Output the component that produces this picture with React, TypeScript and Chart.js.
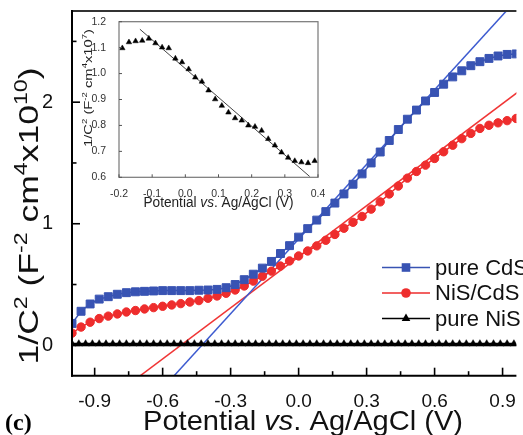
import React, { useEffect, useRef } from 'react';
import { Chart, registerables } from 'chart.js';

Chart.register(...registerables);

// ---------- main chart data ----------
const potential = [
  -1.0, -0.96, -0.92, -0.88, -0.84, -0.8, -0.76, -0.72, -0.68, -0.64,
  -0.6, -0.56, -0.52, -0.48, -0.44, -0.4, -0.36, -0.32, -0.28, -0.24,
  -0.2, -0.16, -0.12, -0.08, -0.04, 0.0, 0.04, 0.08, 0.12, 0.16,
  0.2, 0.24, 0.28, 0.32, 0.36, 0.4, 0.44, 0.48, 0.52, 0.56,
  0.6, 0.64, 0.68, 0.72, 0.76, 0.8, 0.84, 0.88, 0.92, 0.96,
];
const pureCdS = [
  0.18, 0.28, 0.34, 0.38, 0.4, 0.42, 0.433, 0.44, 0.444, 0.447,
  0.45, 0.45, 0.45, 0.45, 0.453, 0.455, 0.46, 0.474, 0.5, 0.54,
  0.585, 0.635, 0.69, 0.755, 0.82, 0.89, 0.96, 1.03, 1.1, 1.17,
  1.245, 1.325, 1.41, 1.5, 1.59, 1.685, 1.775, 1.86, 1.935, 2.01,
  2.08, 2.148, 2.208, 2.258, 2.3, 2.333, 2.36, 2.38, 2.393, 2.397,
];
const nisCdS = [
  0.1, 0.15, 0.19, 0.22, 0.24, 0.258, 0.274, 0.286, 0.299, 0.31,
  0.321, 0.332, 0.343, 0.356, 0.368, 0.387, 0.406, 0.428, 0.455, 0.488,
  0.528, 0.568, 0.61, 0.652, 0.694, 0.735, 0.776, 0.818, 0.864, 0.912,
  0.963, 1.012, 1.06, 1.12, 1.18, 1.245, 1.31, 1.375, 1.43, 1.482,
  1.537, 1.592, 1.646, 1.7, 1.743, 1.784, 1.81, 1.83, 1.848, 1.866,
];
const nisPotential = [
  -1.0, -0.97, -0.94, -0.91, -0.88, -0.85, -0.82, -0.79, -0.76, -0.73,
  -0.7, -0.67, -0.64, -0.61, -0.58, -0.55, -0.52, -0.49, -0.46, -0.43,
  -0.4, -0.37, -0.34, -0.31, -0.28, -0.25, -0.22, -0.19, -0.16, -0.13,
  -0.1, -0.07, -0.04, -0.01, 0.02, 0.05, 0.08, 0.11, 0.14, 0.17,
  0.2, 0.23, 0.26, 0.29, 0.32, 0.35, 0.38, 0.41, 0.44, 0.47,
  0.5, 0.53, 0.56, 0.59, 0.62, 0.65, 0.68, 0.71, 0.74, 0.77,
  0.8, 0.83, 0.86, 0.89, 0.92, 0.95,
];
const pureNiS = [
  0.011, 0.011, 0.011, 0.011, 0.011, 0.011, 0.011, 0.011, 0.011, 0.011,
  0.011, 0.011, 0.011, 0.011, 0.011, 0.011, 0.011, 0.011, 0.011, 0.011,
  0.011, 0.011, 0.011, 0.011, 0.011, 0.011, 0.011, 0.011, 0.011, 0.011,
  0.011, 0.011, 0.011, 0.011, 0.011, 0.011, 0.011, 0.011, 0.011, 0.011,
  0.011, 0.011, 0.011, 0.011, 0.011, 0.011, 0.011, 0.011, 0.011, 0.011,
  0.011, 0.011, 0.011, 0.011, 0.011, 0.011, 0.011, 0.011, 0.011, 0.011,
  0.011, 0.011, 0.011, 0.011, 0.011, 0.011,
];
const cdsFitX = [-0.6, 1.0];
const cdsFitY = [-0.354, 2.921];
const nisCdsFitX = [-0.8, 1.0];
const nisCdsFitY = [-0.392, 2.128];

const xTicks = [-0.9, -0.6, -0.3, 0, 0.3, 0.6, 0.9];
const xTickLabels = ['-0.9', '-0.6', '-0.3', '0.0', '0.3', '0.6', '0.9'];
const xMinorTicks = [-0.75, -0.45, -0.15, 0.15, 0.45, 0.75];
const yTicks = [0, 1, 2];
const yTickLabels = ['0', '1', '2'];
const yMinorTicks = [0.5, 1.5, 2.5];
const legendLabels = ['pure CdS', 'NiS/CdS', 'pure NiS'];

// ---------- inset data ----------
const insetPotential = [
  -0.19, -0.17, -0.15, -0.13, -0.11, -0.09, -0.07, -0.05, -0.03, -0.01,
  0.01, 0.03, 0.05, 0.07, 0.09, 0.11, 0.13, 0.15, 0.17, 0.19,
  0.21, 0.23, 0.25, 0.27, 0.29, 0.31, 0.33, 0.35, 0.37, 0.39,
];
const insetValues = [
  1.098, 1.121, 1.125, 1.127, 1.135, 1.117, 1.101, 1.098, 1.058, 1.044,
  1.017, 0.985, 0.969, 0.935, 0.901, 0.876, 0.85, 0.828, 0.819, 0.8,
  0.795, 0.78, 0.748, 0.723, 0.696, 0.676, 0.663, 0.658, 0.655, 0.663,
];
const insetFitX = [-0.137, 0.375];
const insetFitY = [1.171, 0.603];
const insetXTicks = [-0.2, -0.1, 0, 0.1, 0.2, 0.3, 0.4];
const insetXTickLabels = ['-0.2', '-0.1', '0.0', '0.1', '0.2', '0.3', '0.4'];
const insetYTicks = [0.6, 0.7, 0.8, 0.9, 1.0, 1.1, 1.2];
const insetYTickLabels = ['0.6', '0.7', '0.8', '0.9', '1.0', '1.1', '1.2'];

// ---------- styles ----------
const SANS = '"Liberation Sans", Arial, Helvetica, sans-serif';
const BLUE = '#3853b3';
const RED = '#ee2d2d';
const BLUE_FIT = '#3d5bd0';
const RED_FIT = '#f03535';

type Seg = { t: string; sup?: boolean; it?: boolean };

function drawRich(
  ctx: CanvasRenderingContext2D,
  segs: Seg[],
  size: number,
  targetWidth: number | null,
  supScale = 0.65
) {
  const fontFor = (s: Seg) =>
    `${s.it ? 'italic ' : ''}${s.sup ? size * supScale : size}px ${SANS}`;
  const widths = segs.map((s) => {
    ctx.font = fontFor(s);
    return ctx.measureText(s.t).width;
  });
  const total = widths.reduce((a, b) => a + b, 0);
  const sx = targetWidth ? targetWidth / total : 1;
  ctx.save();
  ctx.scale(sx, 1);
  let x = -total / 2;
  ctx.textAlign = 'left';
  ctx.textBaseline = 'alphabetic';
  segs.forEach((s, i) => {
    ctx.font = fontFor(s);
    ctx.fillText(s.t, x, s.sup ? -size * 0.4 : 0);
    x += widths[i];
  });
  ctx.restore();
}

function line(ctx: CanvasRenderingContext2D, x1: number, y1: number, x2: number, y2: number) {
  ctx.beginPath();
  ctx.moveTo(x1, y1);
  ctx.lineTo(x2, y2);
  ctx.stroke();
}

const mainDecor = {
  id: 'mainDecor',
  afterDraw(chart: any) {
    const { ctx, chartArea: a, scales } = chart;
    const xs = scales.x;
    const ys = scales.y;
    ctx.save();
    ctx.lineCap = 'butt';
    // frame
    ctx.strokeStyle = '#333';
    ctx.lineWidth = 2;
    line(ctx, a.left, a.top, a.right, a.top);
    ctx.strokeStyle = '#000';
    line(ctx, a.left, a.top - 1, a.left, a.bottom + 1);
    line(ctx, a.left - 1, a.bottom, a.right, a.bottom);
    // ticks
    ctx.lineWidth = 1.6;
    xTicks.forEach((v) => {
      const p = xs.getPixelForValue(v);
      line(ctx, p, a.bottom, p, a.bottom - 8);
    });
    xMinorTicks.forEach((v) => {
      const p = xs.getPixelForValue(v);
      line(ctx, p, a.bottom, p, a.bottom - 4.5);
    });
    yTicks.forEach((v) => {
      const p = ys.getPixelForValue(v);
      line(ctx, a.left, p, a.left + 8, p);
    });
    yMinorTicks.forEach((v) => {
      const p = ys.getPixelForValue(v);
      line(ctx, a.left, p, a.left + 4.5, p);
    });

    ctx.fillStyle = '#111';
    // x title
    ctx.save();
    ctx.translate(303, 430);
    drawRich(
      ctx,
      [{ t: 'Potential ' }, { t: 'vs', it: true }, { t: '. Ag/AgCl (V)' }],
      28,
      320
    );
    ctx.restore();
    // y title
    ctx.save();
    ctx.translate(38, 216);
    ctx.rotate(-Math.PI / 2);
    drawRich(
      ctx,
      [
        { t: '1/C' },
        { t: '2', sup: true },
        { t: ' (F' },
        { t: '-2', sup: true },
        { t: ' cm' },
        { t: '4', sup: true },
        { t: 'x10' },
        { t: '10', sup: true },
        { t: ')' },
      ],
      28,
      297
    );
    ctx.restore();

    // (c)
    ctx.font = `bold 24px "Liberation Serif", "Times New Roman", serif`;
    ctx.textAlign = 'left';
    ctx.textBaseline = 'alphabetic';
    ctx.fillStyle = '#000';
    ctx.fillText('(c)', 5, 430);

    // legend
    const rows = [267.5, 293, 318.5];
    const colors = [BLUE, RED, '#000'];
    rows.forEach((y, i) => {
      ctx.strokeStyle = colors[i];
      ctx.fillStyle = colors[i];
      ctx.lineWidth = 1.6;
      line(ctx, 382, y, 430, y);
      ctx.beginPath();
      if (i === 0) {
        ctx.rect(406 - 4.3, y - 4.3, 8.6, 8.6);
      } else if (i === 1) {
        ctx.arc(406, y, 4.8, 0, Math.PI * 2);
      } else {
        const r = 5;
        ctx.moveTo(406, y - r);
        ctx.lineTo(406 + r * 0.866, y + r * 0.5);
        ctx.lineTo(406 - r * 0.866, y + r * 0.5);
        ctx.closePath();
      }
      ctx.fill();
      ctx.fillStyle = '#111';
      ctx.font = `22px ${SANS}`;
      ctx.textBaseline = 'middle';
      ctx.fillText(legendLabels[i], 435, y + 1);
    });
    ctx.restore();
  },
};

const insetDecor = {
  id: 'insetDecor',
  afterDraw(chart: any) {
    const { ctx, chartArea: a, scales } = chart;
    const xs = scales.x;
    const ys = scales.y;
    ctx.save();
    ctx.strokeStyle = '#777';
    ctx.lineWidth = 1.2;
    ctx.strokeRect(a.left, a.top, a.right - a.left, a.bottom - a.top);
    ctx.lineWidth = 1;
    ctx.strokeStyle = '#555';
    insetXTicks.forEach((v) => {
      const p = xs.getPixelForValue(v);
      line(ctx, p, a.bottom, p, a.bottom - 3);
    });
    insetYTicks.forEach((v) => {
      const p = ys.getPixelForValue(v);
      line(ctx, a.left, p, a.left + 3, p);
    });
    ctx.fillStyle = '#222';
    ctx.save();
    ctx.translate((a.left + a.right) / 2, 193);
    drawRich(
      ctx,
      [{ t: 'Potential ' }, { t: 'vs', it: true }, { t: '. Ag/AgCl (V)' }],
      14,
      150
    );
    ctx.restore();
    ctx.save();
    ctx.translate(12, 74);
    ctx.rotate(-Math.PI / 2);
    drawRich(
      ctx,
      [
        { t: '1/C' },
        { t: '2', sup: true },
        { t: ' (F' },
        { t: '-2', sup: true },
        { t: ' cm' },
        { t: '4', sup: true },
        { t: 'x10' },
        { t: '7', sup: true },
        { t: ')' },
      ],
      11.5,
      118
    );
    ctx.restore();
    ctx.restore();
  },
};

export default function App() {
  const mainRef = useRef<HTMLCanvasElement | null>(null);
  const insetRef = useRef<HTMLCanvasElement | null>(null);

  useEffect(() => {
    document.body.style.margin = '0';
    const mainCanvas = mainRef.current!;
    const insetCanvas = insetRef.current!;

    const main = new Chart(mainCanvas, {
      type: 'line',
      data: {
        datasets: [
          {
            label: legendLabels[0],
            data: potential.map((x, i) => ({ x, y: pureCdS[i] })),
            borderColor: BLUE,
            backgroundColor: BLUE,
            borderWidth: 1.5,
            pointStyle: 'rect',
            pointRadius: 5.6,
            pointBorderWidth: 1,
          },
          {
            label: legendLabels[1],
            data: potential.map((x, i) => ({ x, y: nisCdS[i] })),
            borderColor: RED,
            backgroundColor: RED,
            borderWidth: 1.5,
            pointStyle: 'circle',
            pointRadius: 4.2,
            pointBorderWidth: 1,
          },
          {
            label: legendLabels[2],
            data: nisPotential.map((x, i) => ({ x, y: pureNiS[i] })),
            borderColor: '#000',
            backgroundColor: '#000',
            borderWidth: 2.5,
            pointStyle: 'triangle',
            pointRadius: 4.3,
            pointBorderWidth: 0.5,
          },
          {
            label: 'fit CdS',
            data: cdsFitX.map((x, i) => ({ x, y: cdsFitY[i] })),
            borderColor: BLUE_FIT,
            borderWidth: 1.5,
            pointRadius: 0,
          },
          {
            label: 'fit NiS/CdS',
            data: nisCdsFitX.map((x, i) => ({ x, y: nisCdsFitY[i] })),
            borderColor: RED_FIT,
            borderWidth: 1.5,
            pointRadius: 0,
          },
        ],
      },
      options: {
        responsive: false,
        animation: false,
        events: [],
        layout: { padding: { top: 11, left: 0, right: 0, bottom: 0 } },
        plugins: { legend: { display: false }, tooltip: { enabled: false } },
        scales: {
          x: {
            type: 'linear',
            min: -1.0,
            max: 0.961,
            grid: { display: false },
            border: { display: false },
            afterBuildTicks: (s: any) => {
              s.ticks = xTicks.map((v) => ({ value: v }));
            },
            afterFit: (s: any) => {
              s.height = 59.3;
              s.paddingLeft = 0;
              s.paddingRight = 0;
            },
            ticks: {
              callback: (_v: any, i: number) => xTickLabels[i],
              font: { family: SANS, size: 19 },
              color: '#111',
              padding: 7,
              maxRotation: 0,
              autoSkip: false,
            },
          },
          y: {
            type: 'linear',
            min: -0.25,
            max: 2.75,
            grid: { display: false },
            border: { display: false },
            afterBuildTicks: (s: any) => {
              s.ticks = yTicks.map((v) => ({ value: v }));
            },
            afterFit: (s: any) => {
              s.width = 72;
              s.paddingTop = 0;
              s.paddingBottom = 0;
            },
            ticks: {
              callback: (_v: any, i: number) => yTickLabels[i],
              font: { family: SANS, size: 20 },
              color: '#111',
              padding: 11,
              autoSkip: false,
            },
          },
        },
      },
      plugins: [mainDecor],
    } as any);

    const inset = new Chart(insetCanvas, {
      type: 'line',
      data: {
        datasets: [
          {
            label: 'inset',
            data: insetPotential.map((x, i) => ({ x, y: insetValues[i] })),
            showLine: false,
            borderColor: '#000',
            backgroundColor: '#000',
            pointStyle: 'triangle',
            pointRadius: 3.2,
            pointBorderWidth: 0.5,
          },
          {
            label: 'inset fit',
            data: insetFitX.map((x, i) => ({ x, y: insetFitY[i] })),
            borderColor: '#444',
            borderWidth: 1,
            pointRadius: 0,
          },
        ],
      },
      options: {
        responsive: false,
        animation: false,
        events: [],
        layout: { padding: { top: 7.7, left: 0, right: 7, bottom: 0 } },
        plugins: { legend: { display: false }, tooltip: { enabled: false } },
        scales: {
          x: {
            type: 'linear',
            min: -0.2,
            max: 0.4,
            grid: { display: false },
            border: { display: false },
            afterBuildTicks: (s: any) => {
              s.ticks = insetXTicks.map((v) => ({ value: v }));
            },
            afterFit: (s: any) => {
              s.height = 36.7;
              s.paddingLeft = 0;
              s.paddingRight = 0;
            },
            ticks: {
              callback: (_v: any, i: number) => insetXTickLabels[i],
              font: { family: SANS, size: 10.5 },
              color: '#333',
              padding: 3,
              maxRotation: 0,
              autoSkip: false,
            },
          },
          y: {
            type: 'linear',
            min: 0.6,
            max: 1.2,
            grid: { display: false },
            border: { display: false },
            afterBuildTicks: (s: any) => {
              s.ticks = insetYTicks.map((v) => ({ value: v }));
            },
            afterFit: (s: any) => {
              s.width = 39;
              s.paddingTop = 0;
              s.paddingBottom = 0;
            },
            ticks: {
              callback: (_v: any, i: number) => insetYTickLabels[i],
              font: { family: SANS, size: 10.5 },
              color: '#333',
              padding: 5,
              autoSkip: false,
            },
          },
        },
      },
      plugins: [insetDecor],
    } as any);

    return () => {
      main.destroy();
      inset.destroy();
    };
  }, []);

  return (
    <div style={{ position: 'relative', width: 523, height: 435, background: '#fff' }}>
      <canvas
        ref={mainRef}
        width={523}
        height={435}
        style={{ position: 'absolute', left: 0, top: 0, width: 523, height: 435 }}
      />
      <canvas
        ref={insetRef}
        width={245}
        height={200}
        style={{ position: 'absolute', left: 80, top: 14, width: 245, height: 200 }}
      />
    </div>
  );
}
